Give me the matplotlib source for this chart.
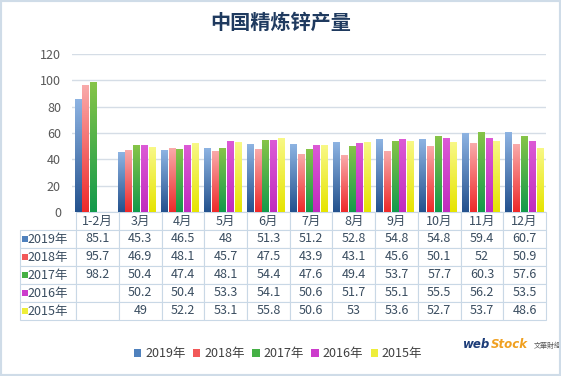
import numpy as np
import matplotlib.pyplot as plt
from matplotlib.colors import LinearSegmentedColormap
from matplotlib.patches import Rectangle, Patch

plt.rcParams["font.family"] = ["Noto Sans CJK SC", "DejaVu Sans"]

MONTHS = ["1-2月", "3月", "4月", "5月", "6月", "7月", "8月", "9月", "10月", "11月", "12月"]
YEARS = ["2019年", "2018年", "2017年", "2016年", "2015年"]
Y2019 = [85.1, 45.3, 46.5, 48, 51.3, 51.2, 52.8, 54.8, 54.8, 59.4, 60.7]
Y2018 = [95.7, 46.9, 48.1, 45.7, 47.5, 43.9, 43.1, 45.6, 50.1, 52, 50.9]
Y2017 = [98.2, 50.4, 47.4, 48.1, 54.4, 47.6, 49.4, 53.7, 57.7, 60.3, 57.6]
Y2016 = [np.nan, 50.2, 50.4, 53.3, 54.1, 50.6, 51.7, 55.1, 55.5, 56.2, 53.5]
Y2015 = [np.nan, 49, 52.2, 53.1, 55.8, 50.6, 53, 53.6, 52.7, 53.7, 48.6]
SERIES = [Y2019, Y2018, Y2017, Y2016, Y2015]

# legend colour, gradient top, gradient bottom
COLORS = ["#4f81bd", "#f25858", "#45b045", "#cc3ccc", "#eeee3a"]
GRAD = [("#8db3e2", "#24528e"), ("#f9aaaa", "#ee2a2a"), ("#86c448", "#139a4c"),
        ("#dc5ad6", "#c02cbe"), ("#f8f886", "#e6e400")]

fig = plt.figure(figsize=(5.61, 3.76), dpi=100)
W, H = 561, 376
ax = fig.add_axes([72 / W, 1 - 212 / H, 474 / W, 158 / H])

x = np.arange(len(MONTHS))
grad = np.linspace(1, 0, 64).reshape(-1, 1)
for i, (vals, (top, bot)) in enumerate(zip(SERIES, GRAD)):
    bars = ax.bar(x + (i - 2) * 0.18, vals, width=0.16, color="none", zorder=2)
    cmap = LinearSegmentedColormap.from_list(f"g{i}", [bot, top])
    for p in bars.patches:
        h = p.get_height()
        if not np.isfinite(h):
            continue
        ax.imshow(grad, cmap=cmap, vmin=0, vmax=1, aspect="auto", zorder=3,
                  extent=[p.get_x(), p.get_x() + p.get_width(), 0, h])

ax.set_xlim(-0.5, len(MONTHS) - 0.5)
ax.set_ylim(0, 120)
ax.set_yticks(range(0, 121, 20))
ax.set_xticks([])
ax.grid(axis="y", color="#d5dde6", linewidth=1, zorder=0)
for s in ax.spines.values():
    s.set_visible(False)
ax.tick_params(axis="y", length=0, labelsize=9, labelcolor="#595959", pad=8)

# data table below the chart
cells = [[""] + MONTHS]
for name, vals in zip(YEARS, SERIES):
    cells.append([name] + ["" if np.isnan(v) else f"{v:g}" for v in vals])
x0 = (20 - 72) / 474
tw = (546 - 20) / 474
cw = [52 / 526] + [39.5 / 526] * len(MONTHS)
tab = ax.table(cellText=cells, colWidths=cw, cellLoc="center",
               bbox=[x0, -108 / 158, tw, 108 / 158])
tab.auto_set_font_size(False)
for (r, c), cell in tab.get_celld().items():
    cell.set_edgecolor("#c9d8e6")
    cell.set_linewidth(0.8)
    cell.get_text().set_fontsize(9)
    cell.get_text().set_color("#3a4d60")
    if r == 0 and c == 0:
        cell.visible_edges = ""
    if c == 0 and r > 0:
        cell._loc = "right"
        cell.PAD = 0.03

for j, col in enumerate(COLORS):
    ax.add_patch(Rectangle(((22 - 72) / 474, -(30 + 18 * j) / 158), 6 / 474, 6 / 158,
                           transform=ax.transAxes, facecolor=col, edgecolor="none",
                           clip_on=False, zorder=5))

fig.text(0.5, 1 - 22 / H, "中国精炼锌产量", ha="center", va="center",
         fontsize=14.5, color="#1f3a5f", fontweight="bold")

handles = [Patch(facecolor=c, edgecolor="none") for c in COLORS]
fig.legend(handles, YEARS, loc="center", bbox_to_anchor=(278 / W, 1 - 354 / H), ncol=5,
           frameon=False, handlelength=0.6, handleheight=0.6, handletextpad=0.3,
           columnspacing=0.6, fontsize=9, labelcolor="#404040")

# logo
t1 = fig.text(463 / W, 1 - 345 / H, "web", fontsize=8.5, fontweight="bold", style="italic",
              color="#1c3c78", ha="left", va="center", family="DejaVu Sans")
t2 = ax.annotate("Stock", xy=(1, 0.5), xycoords=t1, xytext=(0.3, 0), textcoords="offset points",
                 fontsize=8.5, fontweight="bold", style="italic", color="#f0a020",
                 ha="left", va="center", family="DejaVu Sans", annotation_clip=False)
ax.annotate("文華財經", xy=(1, 0.4), xycoords=t2, xytext=(4, 0), textcoords="offset points",
            fontsize=5, color="#555555", ha="left", va="center", annotation_clip=False)

fig.patches.append(Rectangle((0, 0), 1, 1, transform=fig.transFigure, fill=False,
                             edgecolor="#cfdce8", linewidth=3))

fig.savefig("out.png", dpi=100)
